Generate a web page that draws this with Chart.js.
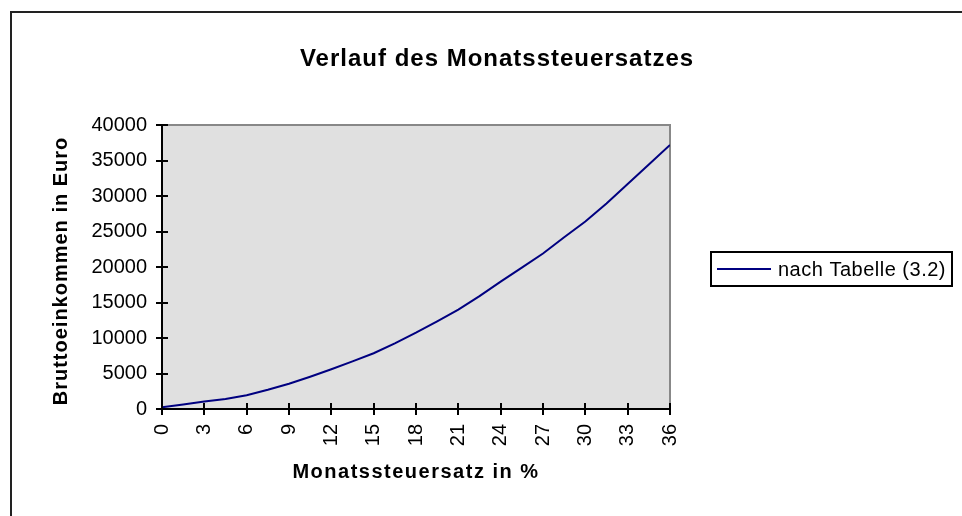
<!DOCTYPE html>
<html>
<head>
<meta charset="utf-8">
<script src="https://cdn.jsdelivr.net/npm/chart.js@4/dist/chart.umd.min.js"></script>
<style>
  html, body { margin: 0; padding: 0; background: #fff; }
  #wrap { width: 962px; height: 516px; }
</style>
</head>
<body>
<div id="wrap"><canvas id="chart" width="962" height="516"></canvas></div>
<script>
'use strict';

// Monatssteuersatz in % (x) and Bruttoeinkommen in Euro (y)
const taxRates = [0, 1.5, 3, 4.5, 6, 7.5, 9, 10.5, 12, 13.5, 15, 16.5, 18,
  19.5, 21, 22.5, 24, 25.5, 27, 28.5, 30, 31.5, 33, 34.5, 36];
const grossIncome = [250, 650, 1050, 1400, 1950, 2700, 3550, 4550, 5600, 6700, 7850, 9250, 10750,
  12350, 14000, 15900, 17950, 19900, 21900, 24200, 26400, 28950, 31700, 34450, 37200];

const xTickLabels = [0, 3, 6, 9, 12, 15, 18, 21, 24, 27, 30, 33, 36];
const yTickLabels = [0, 5000, 10000, 15000, 20000, 25000, 30000, 35000, 40000];

const chartTitle = 'Verlauf des Monatssteuersatzes';
const xTitle = 'Monatssteuersatz in %';
const yTitle = 'Bruttoeinkommen in Euro';
const seriesLabel = 'nach Tabelle (3.2)';

const fontFamily = '"Liberation Sans", Arial, sans-serif';
const lineColor = '#000080';
const plotColor = '#e0e0e0';

const decorations = {
  id: 'decorations',
  beforeDraw(chart) {
    const {ctx, chartArea: a} = chart;
    ctx.save();
    ctx.fillStyle = '#fff';
    ctx.fillRect(0, 0, chart.width, chart.height);
    ctx.fillStyle = plotColor;
    ctx.fillRect(a.left, a.top, a.right - a.left, a.bottom - a.top);
    // grey frame of the plot area (top and right)
    ctx.strokeStyle = '#888';
    ctx.lineWidth = 2;
    ctx.beginPath();
    ctx.moveTo(a.left, a.top);
    ctx.lineTo(a.right, a.top);
    ctx.lineTo(a.right, a.bottom);
    ctx.stroke();
    ctx.restore();
  },
  afterDraw(chart) {
    const {ctx, chartArea: a} = chart;
    const xs = chart.scales.x;
    const ys = chart.scales.y;
    ctx.save();

    // tick marks that cross the axes
    ctx.strokeStyle = '#000';
    ctx.lineWidth = 2;
    ctx.beginPath();
    ys.ticks.forEach(t => {
      const py = Math.round(ys.getPixelForValue(t.value));
      ctx.moveTo(a.left - 6, py);
      ctx.lineTo(a.left + 6, py);
    });
    xs.ticks.forEach(t => {
      const px = Math.round(xs.getPixelForValue(t.value));
      ctx.moveTo(px, a.bottom - 6);
      ctx.lineTo(px, a.bottom + 6);
    });
    ctx.stroke();

    // outer chart frame (cut off at right and bottom)
    ctx.strokeStyle = '#222';
    ctx.lineWidth = 2;
    ctx.strokeRect(11, 12, chart.width + 20, chart.height + 20);

    ctx.fillStyle = '#000';

    // title
    ctx.font = 'bold 24px ' + fontFamily;
    ctx.letterSpacing = '1px';
    ctx.textAlign = 'center';
    ctx.textBaseline = 'alphabetic';
    ctx.fillText(chartTitle, 497, 66);

    // axis titles
    ctx.font = 'bold 20px ' + fontFamily;
    ctx.letterSpacing = '1.5px';
    ctx.textBaseline = 'middle';
    ctx.fillText(xTitle, (a.left + a.right) / 2, 472);
    ctx.save();
    ctx.translate(61, (a.top + a.bottom) / 2 + 4);
    ctx.rotate(-Math.PI / 2);
    ctx.letterSpacing = '1px';
    ctx.fillText(yTitle, 0, 0);
    ctx.restore();

    // legend
    const ds = chart.data.datasets[0];
    ctx.letterSpacing = '0.5px';
    ctx.strokeStyle = '#000';
    ctx.lineWidth = 2;
    ctx.strokeRect(711, 252, 241, 34);
    ctx.strokeStyle = ds.borderColor;
    ctx.lineWidth = 2;
    ctx.beginPath();
    ctx.moveTo(717, 269);
    ctx.lineTo(771, 269);
    ctx.stroke();
    ctx.font = '20px ' + fontFamily;
    ctx.textAlign = 'left';
    ctx.textBaseline = 'middle';
    ctx.fillText(ds.label, 778, 270);

    ctx.restore();
  }
};

function renderChart() {
  const points = taxRates.map((rate, i) => ({x: rate, y: grossIncome[i]}));
  const ctx = document.getElementById('chart').getContext('2d');

  new Chart(ctx, {
    type: 'line',
    data: {
      datasets: [
        {
          label: seriesLabel,
          data: points,
          borderColor: lineColor,
          borderWidth: 2,
          pointRadius: 0,
          tension: 0,
          fill: false
        }
      ]
    },
    options: {
      responsive: false,
      animation: false,
      layout: {
        padding: {left: 0, top: 125, right: 292, bottom: 0}
      },
      plugins: {
        legend: {display: false},
        title: {display: false},
        tooltip: {enabled: false}
      },
      scales: {
        x: {
          type: 'linear',
          min: 0,
          max: 36,
          afterBuildTicks: scale => {
            scale.ticks = xTickLabels.map(v => ({value: v}));
          },
          afterFit: scale => {
            scale.height = 107;
          },
          grid: {display: false, drawTicks: false},
          border: {display: true, color: '#000', width: 2},
          ticks: {
            autoSkip: false,
            minRotation: 90,
            maxRotation: 90,
            padding: 15,
            color: '#000',
            font: {family: fontFamily, size: 20}
          }
        },
        y: {
          min: 0,
          max: 40000,
          afterBuildTicks: scale => {
            scale.ticks = yTickLabels.map(v => ({value: v}));
          },
          afterFit: scale => {
            scale.width = 162;
          },
          grid: {display: false, drawTicks: false},
          border: {display: true, color: '#000', width: 2},
          ticks: {
            padding: 15,
            color: '#000',
            font: {family: fontFamily, size: 20},
            callback: value => String(value)
          }
        }
      }
    },
    plugins: [decorations]
  });
}

document.addEventListener('DOMContentLoaded', renderChart);
</script>
</body>
</html>
